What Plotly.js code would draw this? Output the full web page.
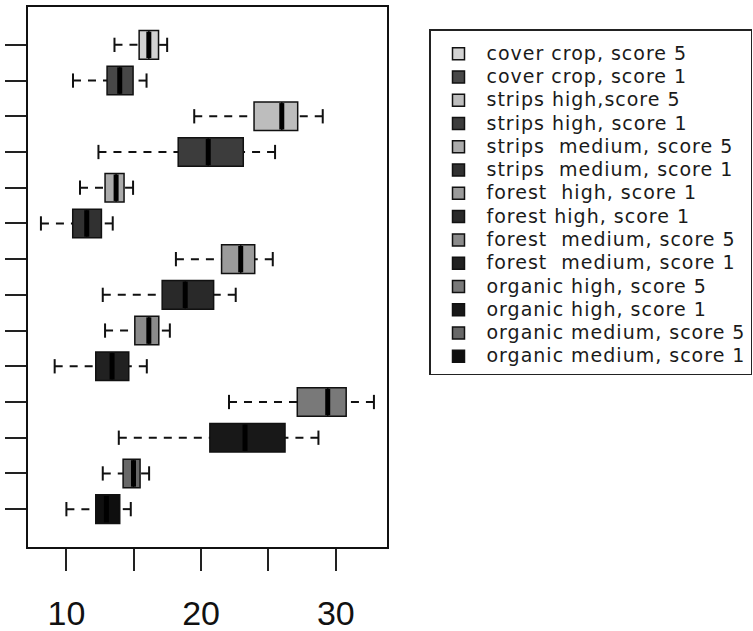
<!DOCTYPE html>
<html>
<head>
<meta charset="utf-8">
<script src="https://cdn.plot.ly/plotly-3.0.1.min.js"></script>
<style>html,body{margin:0;padding:0;background:#fff;}#chart{width:753px;height:631px;}</style>
</head>
<body>
<div id="chart"></div>
<script>
// Groups, listed from top of the chart to bottom (also legend order)
var groupNames = [
  'cover crop, score 5',
  'cover crop, score 1',
  'strips high,score 5',
  'strips high, score 1',
  'strips\u00a0 medium, score 5',
  'strips\u00a0 medium, score 1',
  'forest\u00a0 high, score 1',
  'forest high, score 1',
  'forest\u00a0 medium, score 5',
  'forest\u00a0 medium, score 1',
  'organic high, score 5',
  'organic high, score 1',
  'organic medium, score 5',
  'organic medium, score 1'
];
var lowerWhisker = [13.57, 10.49, 19.49, 12.38, 11.01, 8.11, 18.13, 12.70, 12.87, 9.13, 22.07, 13.89, 12.70, 10.00];
var q1Values     = [15.40, 13.02, 23.93, 18.30, 12.87, 10.47, 21.52, 17.11, 15.08, 12.18, 27.14, 20.65, 14.21, 12.18];
var medianValues = [16.12, 13.96, 25.99, 20.53, 13.69, 11.51, 22.94, 18.82, 16.12, 13.39, 29.40, 23.26, 14.98, 12.97];
var q3Values     = [16.84, 14.95, 27.17, 23.13, 14.28, 12.60, 23.98, 20.93, 16.86, 14.63, 30.77, 26.23, 15.47, 13.96];
var upperWhisker = [17.48, 15.95, 29.03, 25.49, 14.95, 13.44, 25.32, 22.57, 17.68, 15.97, 32.83, 28.71, 16.14, 14.78];
var fillColors = ['#d2d2d2','#474747','#bdbdbd','#3c3c3c','#ababab','#313131','#9b9b9b','#292929',
                  '#8b8b8b','#212121','#797979','#181818','#686868','#0f0f0f'];
var xTickVals = [10, 15, 20, 25, 30];
var xTickText = ['10', '', '20', '', '30'];

var n = groupNames.length;
var BOXW = 0.8, CAPH = 0.2;
var traces = [];
var wx = [], wy = [], cx = [], cy = [], mx = [], my = [];
for (var i = 0; i < n; i++) {
  var pos = n - i;
  traces.push({
    type: 'box', orientation: 'h',
    name: '<span style="font-size:19px;letter-spacing:1px">' + groupNames[i] + '</span>',
    y: [pos], q1: [q1Values[i]], median: [medianValues[i]], q3: [q3Values[i]],
    lowerfence: [q1Values[i]], upperfence: [q3Values[i]],
    width: BOXW, whiskerwidth: 0,
    fillcolor: fillColors[i],
    line: {color: '#111111', width: 1.5},
    hoverinfo: 'skip'
  });
  // whiskers (drawn from the fence toward the box)
  wx.push(lowerWhisker[i], q1Values[i], null, upperWhisker[i], q3Values[i], null);
  wy.push(pos, pos, null, pos, pos, null);
  // staples
  cx.push(lowerWhisker[i], lowerWhisker[i], null, upperWhisker[i], upperWhisker[i], null);
  cy.push(pos - CAPH, pos + CAPH, null, pos - CAPH, pos + CAPH, null);
  // medians
  mx.push(medianValues[i], medianValues[i], null);
  my.push(pos - BOXW / 2 + 0.03, pos + BOXW / 2 - 0.03, null);
}
traces.push({type: 'scatter', mode: 'lines', x: wx, y: wy, showlegend: false, hoverinfo: 'skip',
  line: {color: '#111111', width: 2, dash: '8px,7px'}});
traces.push({type: 'scatter', mode: 'lines', x: cx, y: cy, showlegend: false, hoverinfo: 'skip',
  line: {color: '#111111', width: 2}});
traces.push({type: 'scatter', mode: 'lines', x: mx, y: my, showlegend: false, hoverinfo: 'skip',
  line: {color: '#000000', width: 5}});

var layout = {
  width: 753, height: 631,
  margin: {l: 28, r: 366, t: 7, b: 84, pad: 0, autoexpand: false},
  paper_bgcolor: '#ffffff', plot_bgcolor: '#ffffff',
  showlegend: true,
  font: {family: 'Liberation Sans, Arial, sans-serif', color: '#111111'},
  xaxis: {
    range: [7.15, 33.8], tickvals: xTickVals, ticktext: xTickText,
    ticks: 'outside', ticklen: 22, tickwidth: 2, tickcolor: '#222222',
    showline: true, mirror: true, linewidth: 2, linecolor: '#111111',
    showgrid: false, zeroline: false, ticklabelstandoff: 13,
    tickfont: {size: 34, family: 'Liberation Sans, Arial, sans-serif', color: '#111111'}
  },
  yaxis: {
    range: [-0.06, n + 1.06], tickvals: groupNames.map(function (d, i) { return n - i; }),
    showticklabels: false,
    ticks: 'outside', ticklen: 21, tickwidth: 2, tickcolor: '#222222',
    showline: true, mirror: true, linewidth: 2, linecolor: '#111111',
    showgrid: false, zeroline: false
  },
  legend: {
    x: (429 - 28) / 359, xanchor: 'left', y: (547 - 29) / 540, yanchor: 'top',
    bordercolor: '#222222', borderwidth: 1.5, bgcolor: '#ffffff',
    font: {size: 15.6, family: 'DejaVu Sans, sans-serif', color: '#1a1a1a'},
    title: {text: '\u00a0', font: {size: 5}},
    itemwidth: 46, traceorder: 'normal', itemclick: false, itemdoubleclick: false
  }
};
Plotly.newPlot('chart', traces, layout, {staticPlot: true, displayModeBar: false});
</script>
</body>
</html>
